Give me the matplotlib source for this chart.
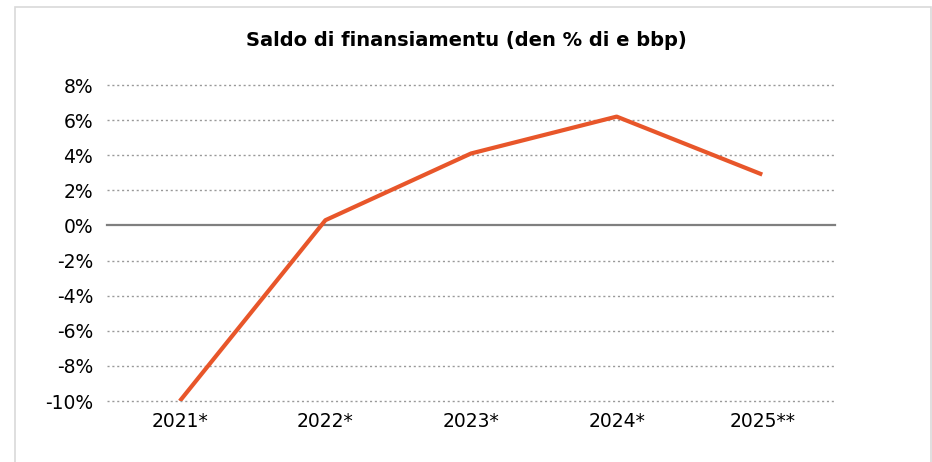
import matplotlib.pyplot as plt
from matplotlib.patches import Rectangle
from matplotlib.ticker import FuncFormatter

years = ["2021*", "2022*", "2023*", "2024*", "2025**"]
saldo = [-10.0, 0.3, 4.1, 6.2, 2.9]
y_ticks = [-10, -8, -6, -4, -2, 0, 2, 4, 6, 8]

fig = plt.figure(figsize=(9.32, 4.62), dpi=100)
ax = fig.add_axes([0.1148, 0.132, 0.7812, 0.684])

# light frame round the chart
fig.add_artist(Rectangle((15 / 932, -0.01), (931 - 15) / 932, 1 - 7 / 462 + 0.01,
                         transform=fig.transFigure, fill=False,
                         edgecolor="#d9d9d9", linewidth=1.2))

x = range(len(years))
for t in y_ticks:
    if t == 0:
        ax.axhline(0, color="#7f7f7f", linewidth=1.6, zorder=1, clip_on=False)
    else:
        ax.axhline(t, color="#999999", linewidth=1.0, linestyle=(0, (1.5, 2)),
                   zorder=1, clip_on=False)

ax.plot(x, saldo, color="#e8562a", linewidth=3.0, solid_capstyle="butt", zorder=3)

ax.set_xlim(-0.5, len(years) - 0.5)
ax.set_ylim(-10, 8)
ax.set_yticks(y_ticks)
ax.yaxis.set_major_formatter(FuncFormatter(lambda v, p: f"{v:.0f}%"))
ax.set_xticks(list(x))
ax.set_xticklabels(years)
ax.tick_params(axis="both", length=0, labelsize=13.5, colors="#000000")
ax.tick_params(axis="y", pad=10)
ax.tick_params(axis="x", pad=8)
for s in ax.spines.values():
    s.set_visible(False)

fig.text(0.5, 0.913, "Saldo di finansiamentu (den % di e bbp)", ha="center", va="center",
         fontsize=14, fontweight="bold")

fig.savefig("out.png", dpi=100)
